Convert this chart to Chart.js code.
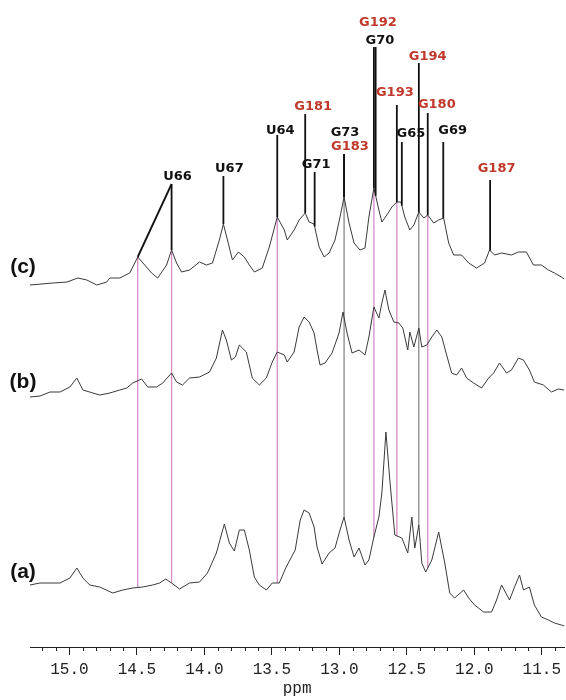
<!DOCTYPE html>
<html>
<head>
<meta charset="utf-8">
<script src="https://cdn.jsdelivr.net/npm/chart.js@4.4.0/dist/chart.umd.min.js"></script>
<style>
  html,body{margin:0;padding:0;background:#fff}
  #wrap{width:566px;height:700px}
</style>
</head>
<body>
<div id="wrap"><canvas id="nmr"></canvas></div>
<script>
// imino spectra, ppm (descending) and intensity (arbitrary, stacked)
const ppmC = [15.292,15.122,15.018,14.937,14.871,14.797,14.723,14.701,14.627,14.553,14.494,14.442,14.391,14.346,14.280,14.243,14.206,14.169,14.110,14.036,13.985,13.940,13.889,13.859,13.829,13.792,13.748,13.704,13.667,13.630,13.571,13.519,13.460,13.408,13.386,13.335,13.298,13.253,13.224,13.187,13.150,13.113,13.076,13.032,12.995,12.965,12.928,12.891,12.847,12.810,12.781,12.744,12.707,12.685,12.648,12.611,12.574,12.544,12.515,12.478,12.448,12.411,12.374,12.345,12.301,12.264,12.227,12.190,12.153,12.094,12.042,11.983,11.924,11.887,11.850,11.798,11.725,11.673,11.614,11.562,11.503,11.451,11.407,11.355,11.333];
const intC = [362,364,365,369,367,362,365,369,369,374,390,382,374,369,382,397,384,375,377,385,382,384,407,423,407,387,395,390,382,375,379,400,430,417,407,417,427,434,425,423,400,390,394,407,430,450,424,404,397,399,430,459,437,425,432,440,445,445,430,417,422,435,429,432,424,427,429,404,392,392,384,379,384,397,392,394,392,395,395,382,382,377,374,370,368];

const ppmB = [15.292,15.218,15.144,15.070,14.996,14.945,14.900,14.826,14.775,14.701,14.627,14.575,14.531,14.465,14.420,14.354,14.309,14.243,14.206,14.162,14.110,14.036,13.962,13.911,13.866,13.837,13.800,13.770,13.741,13.689,13.645,13.593,13.541,13.497,13.460,13.408,13.386,13.335,13.298,13.261,13.224,13.187,13.165,13.143,13.106,13.054,13.002,12.973,12.943,12.906,12.854,12.810,12.781,12.744,12.707,12.685,12.662,12.633,12.596,12.559,12.530,12.493,12.478,12.448,12.411,12.389,12.352,12.315,12.278,12.241,12.205,12.168,12.131,12.094,12.057,12.005,11.946,11.894,11.857,11.813,11.761,11.725,11.673,11.636,11.592,11.555,11.488,11.429,11.377,11.333];
const intB = [250,251,255,255,260,269,257,254,252,254,257,259,264,268,260,260,264,274,265,262,269,270,275,289,317,307,287,290,302,295,269,262,269,285,295,292,285,295,320,330,325,314,297,282,284,294,314,335,314,294,297,292,310,340,329,344,357,337,325,324,319,297,315,300,319,300,302,310,317,310,292,274,272,279,269,264,259,269,274,284,274,277,289,287,277,265,262,255,258,257];

const ppmA = [15.292,15.218,15.144,15.070,14.996,14.945,14.900,14.849,14.775,14.679,14.605,14.531,14.457,14.383,14.332,14.287,14.243,14.184,14.110,14.036,13.977,13.911,13.852,13.815,13.778,13.741,13.704,13.667,13.630,13.593,13.541,13.497,13.445,13.394,13.327,13.290,13.261,13.224,13.187,13.165,13.128,13.076,13.032,12.995,12.965,12.928,12.891,12.854,12.810,12.781,12.744,12.707,12.685,12.655,12.626,12.589,12.537,12.493,12.463,12.441,12.411,12.389,12.360,12.315,12.264,12.219,12.182,12.146,12.079,12.042,11.998,11.931,11.872,11.835,11.798,11.739,11.702,11.665,11.636,11.592,11.555,11.503,11.451,11.407,11.355,11.333];
const intA = [62,64,64,64,69,79,69,62,60,54,57,59,60,62,64,68,64,58,64,65,74,94,123,104,96,117,117,97,70,62,57,64,64,80,97,127,137,134,120,100,83,94,99,117,130,107,90,99,82,87,110,130,154,215,167,112,109,94,130,99,122,84,75,87,115,84,54,49,57,49,42,35,35,47,62,47,60,72,57,60,42,30,27,24,22,21];

const panelNames = ['(a)','(b)','(c)'];

// axis ticks
const xMajor = [15.0,14.5,14.0,13.5,13.0,12.5,12.0,11.5];
const xMinor = [15.2,15.1,14.9,14.8,14.7,14.6,14.4,14.3,14.2,14.1,13.9,13.8,13.7,13.6,13.4,13.3,13.2,13.1,12.9,12.8,12.7,12.6,12.4,12.3,12.2,12.1,11.9,11.8,11.7,11.6,11.4];

// assignments: name and peak position (ppm) in spectrum (c)
const peakNames = ['U66','U66','U67','U64','G181','G71','G73','G183','G70','G192','G193','G65','G194','G180','G69','G187'];
const peakPpm   = [14.494,14.243,13.859,13.460,13.253,13.183,12.965,12.965,12.744,12.731,12.574,12.537,12.411,12.345,12.230,11.883];
const redNames  = ['G181','G183','G192','G193','G194','G180','G187'];

// peaks followed through the three spectra
const linkPink = [14.494,14.243,13.460,12.744,12.574,12.345];
const linkGray = [12.965,12.411];

// label placement (text centre ppm / height, top of the leader line)
const labelPos = {
  U66:{tx:14.199, ty:470, top:463, apex:14.243},
  U67:{tx:13.815, ty:478, top:471},
  U64:{tx:13.438, ty:516, top:512},
  G181:{tx:13.194, ty:540, top:533},
  G71:{tx:13.172, ty:482, top:475},
  G73:{tx:12.958, ty:514, top:493},
  G183:{tx:12.921, ty:500, top:493},
  G70:{tx:12.699, ty:606, top:600},
  G192:{tx:12.714, ty:624, top:600},
  G193:{tx:12.589, ty:554, top:542},
  G65:{tx:12.470, ty:513, top:505},
  G194:{tx:12.345, ty:590, top:584},
  G180:{tx:12.278, ty:542, top:534},
  G69:{tx:12.160, ty:516, top:505},
  G187:{tx:11.835, ty:478, top:467}
};
const panelPos = [75, 265, 380];

function valAt(p, xs, ys){
  for(let i=0;i<xs.length-1;i++){
    if(p<=xs[i] && p>=xs[i+1]){
      const t=(xs[i]-p)/(xs[i]-xs[i+1]);
      return ys[i]+t*(ys[i+1]-ys[i]);
    }
  }
  return ys[ys.length-1];
}

const links = {
  id:'links',
  beforeDatasetsDraw(chart){
    const {ctx, scales:{x,y}} = chart;
    ctx.save();
    const draw = (p,col,w)=>{
      const px = x.getPixelForValue(p);
      ctx.strokeStyle=col; ctx.lineWidth=w;
      ctx.beginPath();
      ctx.moveTo(px, y.getPixelForValue(valAt(p,ppmC,intC)));
      ctx.lineTo(px, y.getPixelForValue(valAt(p,ppmA,intA)));
      ctx.stroke();
    };
    linkPink.forEach(p=>draw(p,'rgb(214,140,200)',1.3));
    linkGray.forEach(p=>draw(p,'#666',1));
    ctx.restore();
  },
  afterDatasetsDraw(chart){
    const {ctx, chartArea, scales:{x,y}} = chart;
    ctx.save();
    // leader lines
    ctx.strokeStyle='#111'; ctx.lineWidth=1.8;
    peakNames.forEach((n,i)=>{
      const L = labelPos[n];
      const p = peakPpm[i];
      const topX = x.getPixelForValue(L.apex!==undefined ? L.apex : p);
      ctx.beginPath();
      ctx.moveTo(topX, y.getPixelForValue(L.top));
      ctx.lineTo(x.getPixelForValue(p), y.getPixelForValue(valAt(p,ppmC,intC)));
      ctx.stroke();
    });
    // label text
    ctx.font='bold 13px "DejaVu Sans"';
    ctx.textAlign='center'; ctx.textBaseline='middle';
    Object.keys(labelPos).forEach(n=>{
      const L = labelPos[n];
      ctx.fillStyle = redNames.includes(n) ? '#c0392b' : '#111';
      ctx.fillText(n, x.getPixelForValue(L.tx), y.getPixelForValue(L.ty));
    });
    // panel letters
    ctx.font='bold 21px "Liberation Sans"';
    ctx.fillStyle='#111';
    panelNames.forEach((t,i)=>{
      ctx.fillText(t, chartArea.left-7, y.getPixelForValue(panelPos[i]));
    });
    // minor ticks
    ctx.strokeStyle='#222'; ctx.lineWidth=1;
    xMinor.forEach(v=>{
      const px = Math.round(x.getPixelForValue(v))+0.5;
      ctx.beginPath();
      ctx.moveTo(px, chartArea.bottom);
      ctx.lineTo(px, chartArea.bottom+4);
      ctx.stroke();
    });
    ctx.restore();
  }
};

const traceStyle = {borderColor:'#3a3a3a', borderWidth:1, pointRadius:0, tension:0, fill:false};

new Chart(document.getElementById('nmr'), {
  type:'line',
  data:{
    datasets:[
      Object.assign({label:'(c)', data: ppmC.map((p,i)=>({x:p, y:intC[i]}))}, traceStyle),
      Object.assign({label:'(b)', data: ppmB.map((p,i)=>({x:p, y:intB[i]}))}, traceStyle),
      Object.assign({label:'(a)', data: ppmA.map((p,i)=>({x:p, y:intA[i]}))}, traceStyle)
    ]
  },
  options:{
    responsive:true, maintainAspectRatio:false, animation:false,
    layout:{padding:{left:30, right:0, top:0, bottom:0}},
    plugins:{legend:{display:false}, tooltip:{enabled:false}},
    scales:{
      x:{
        type:'linear', reverse:true, min:11.333, max:15.292,
        afterBuildTicks: s=>{ s.ticks = xMajor.map(v=>({value:v})); },
        afterFit: s=>{ s.height = 53; },
        grid:{drawOnChartArea:false, drawTicks:true, tickLength:8, tickColor:'#222'},
        border:{display:true, color:'#222', width:1},
        ticks:{font:{family:'Liberation Mono', size:16}, color:'#222', padding:5,
               maxRotation:0, autoSkip:false, callback:v=>Number(v).toFixed(1)},
        title:{display:true, text:'ppm', font:{family:'Liberation Mono', size:16}, color:'#222',
               padding:{top:0, bottom:2}}
      },
      y:{display:false, min:0, max:647}
    }
  },
  plugins:[links]
});
</script>
</body>
</html>
